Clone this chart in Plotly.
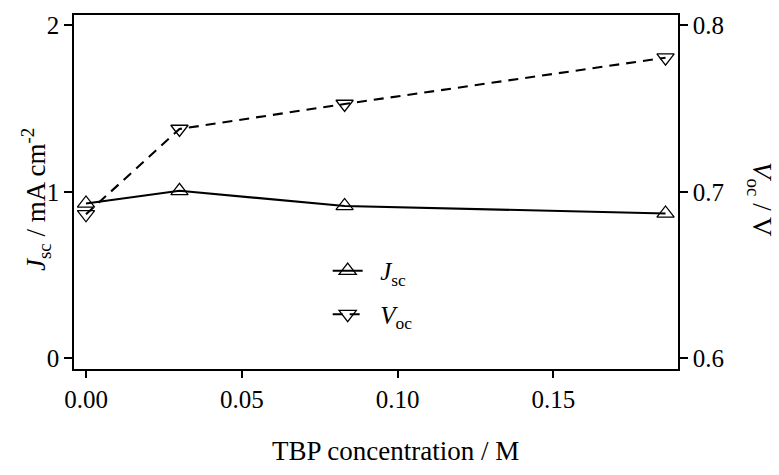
import plotly.graph_objects as go

# TBP concentration (M) and cell parameters
tbp_conc = [0.0, 0.03, 0.083, 0.186]
jsc_values = [0.93, 1.006, 0.915, 0.87]       # mA cm^-2
voc_values = [0.6865, 0.7377, 0.7527, 0.7805]  # V

left_ticks = [0, 1, 2]
right_ticks = [0.6, 0.7, 0.8]
x_ticks = [0.0, 0.05, 0.10, 0.15]
x_tick_labels = ["0.00", "0.05", "0.10", "0.15"]

FONT = "Liberation Serif"
INK = "black"
GAP = "\u00a0\u00a0"  # small gap between legend sample and its label

fig = go.Figure()

fig.add_trace(go.Scatter(
    x=tbp_conc, y=jsc_values, name=GAP + "<i>J</i><sub>sc</sub>",
    legendgroup="jsc",
    mode="lines+markers",
    line=dict(color=INK, width=2.1),
    marker=dict(symbol="triangle-up-open", size=15, color=INK,
                line=dict(width=1.3, color=INK)),
    yaxis="y",
))

fig.add_trace(go.Scatter(
    x=tbp_conc, y=voc_values, name=GAP + "<i>V</i><sub>oc</sub>",
    legendgroup="voc",
    mode="lines+markers",
    line=dict(color=INK, width=2.1, dash="10px,7px"),
    marker=dict(symbol="triangle-down-open", size=15, color=INK,
                line=dict(width=1.3, color=INK)),
    yaxis="y2",
))

axis_common = dict(
    showline=True, linecolor=INK, linewidth=1.6,
    ticks="outside", tickcolor=INK, tickwidth=1.6,
    showgrid=False, zeroline=False,
    tickfont=dict(family=FONT, size=25, color=INK),
)

title_font = dict(family=FONT, size=27, color=INK)

fig.update_layout(
    width=779, height=475,
    margin=dict(l=74, r=101, t=12, b=106),
    paper_bgcolor="white", plot_bgcolor="white",
    font=dict(family=FONT, color=INK),
    showlegend=True,
    legend=dict(
        x=0.42, y=0.342, xanchor="left", yanchor="top",
        bgcolor="rgba(0,0,0,0)", borderwidth=0,
        font=dict(family=FONT, size=25, color=INK),
        tracegroupgap=8, itemwidth=30,
    ),
    xaxis=dict(
        range=[-0.00385, 0.190], tickvals=x_ticks, ticktext=x_tick_labels,
        ticklen=7, mirror=True, **axis_common,
    ),
    yaxis=dict(
        range=[-0.0637, 2.0613], tickvals=left_ticks,
        ticklen=8, **axis_common,
    ),
    yaxis2=dict(
        range=[0.59363, 0.80613], tickvals=right_ticks,
        overlaying="y", side="right", anchor="x",
        ticklen=8, **axis_common,
    ),
    annotations=[
        dict(text="TBP concentration / M", xref="paper", yref="paper",
             x=0.5315, y=-0.2325, xanchor="center", yanchor="middle",
             showarrow=False, font=title_font),
        dict(text="<i>J</i><sub>sc</sub> / mA cm<sup>-2</sup>",
             xref="paper", yref="paper", x=-0.063, y=0.48,
             xanchor="center", yanchor="middle",
             textangle=-90, showarrow=False, font=title_font),
        dict(text="<i>V</i><sub>oc</sub> / V",
             xref="paper", yref="paper", x=1.1358, y=0.48,
             xanchor="center", yanchor="middle",
             textangle=90, showarrow=False, font=title_font),
    ],
)

fig.write_html("out.html")
